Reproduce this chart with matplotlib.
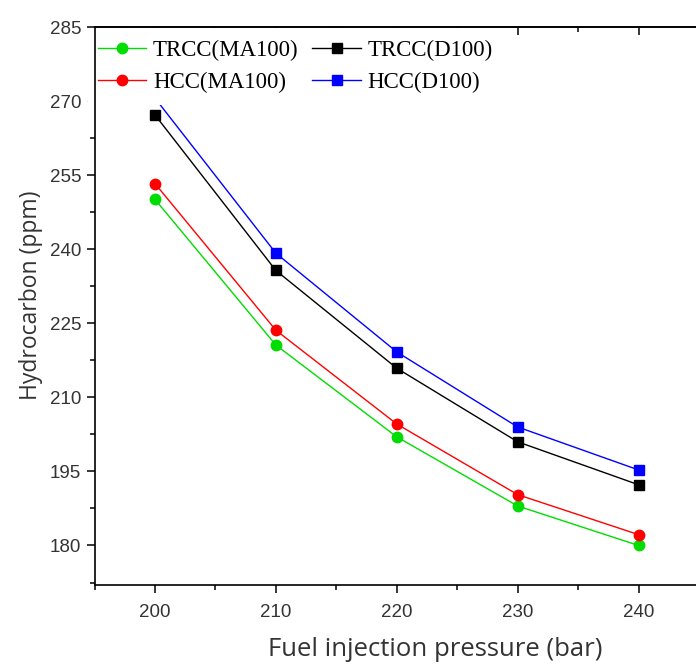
import matplotlib
matplotlib.use("Agg")
from matplotlib import pyplot as plt
from matplotlib.ticker import MultipleLocator

pressure = [200, 210, 220, 230, 240]
trcc_ma100 = [250.1, 220.6, 202.0, 188.0, 180.0]
hcc_ma100 = [253.3, 223.6, 204.6, 190.3, 182.2]
trcc_d100 = [267.2, 235.7, 215.9, 201.0, 192.3]
hcc_d100 = [270.6, 239.2, 219.2, 204.0, 195.3]

plt.rcParams["font.family"] = "Liberation Sans"

fig = plt.figure(figsize=(6.96, 6.64), dpi=100)
ax = fig.add_axes([0.1358, 0.119, 0.8685, 0.8403])

ax.plot(pressure, trcc_ma100, color="#00dd00", marker="o", markersize=7.5, lw=1, label="TRCC(MA100)")
ax.plot(pressure, hcc_ma100, color="#ff0000", marker="o", markersize=7.5, lw=1, label="HCC(MA100)")
ax.plot(pressure, trcc_d100, color="black", marker="s", markersize=7.5, lw=1, label="TRCC(D100)")
ax.plot(pressure, hcc_d100, color="#0000ff", marker="s", markersize=7.5, lw=1, label="HCC(D100)")

ax.set_xlim(195, 245)
ax.set_ylim(172, 285)
ax.xaxis.set_major_locator(MultipleLocator(10))
ax.xaxis.set_minor_locator(MultipleLocator(5))
ax.yaxis.set_major_locator(MultipleLocator(15))
ax.yaxis.set_minor_locator(MultipleLocator(7.5))

ax.spines["right"].set_visible(False)
for s in ["left", "bottom", "top"]:
    ax.spines[s].set_linewidth(1.2)
    ax.spines[s].set_zorder(6)
ax.tick_params(which="both", direction="out", width=1.1, labelsize=13.5, labelcolor="#333333")
ax.tick_params(which="major", length=6)
ax.tick_params(which="minor", length=3.5)
ax.tick_params(axis="x", pad=8)

# inward ticks along the top edge
top = ax.secondary_xaxis("top")
top.xaxis.set_major_locator(MultipleLocator(10))
top.xaxis.set_minor_locator(MultipleLocator(5))
top.tick_params(which="both", direction="in", width=1.1, labeltop=False)
top.tick_params(which="major", length=6)
top.tick_params(which="minor", length=3.5)
top.spines["top"].set_linewidth(1.2)

ax.set_xlabel("Fuel injection pressure (bar)", fontsize=18.5, family="Open Sans", color="#333333")
ax.set_ylabel("Hydrocarbon (ppm)", fontsize=16.5, family="Open Sans", color="#333333")
ax.xaxis.set_label_coords(0.563, -0.093)
ax.yaxis.set_label_coords(-0.085, 0.52)

leg = ax.legend(ncol=2, loc="upper left", bbox_to_anchor=(-0.013, 0.998), frameon=True,
                prop={"family": "Liberation Serif", "size": 16.5}, handlelength=2.1,
                columnspacing=0.6, labelspacing=0.5, borderaxespad=0.0, borderpad=0.5,
                handletextpad=0.3)
leg.get_frame().set_edgecolor("none")
leg.get_frame().set_facecolor("white")
leg.get_frame().set_alpha(1)
leg.set_zorder(5)

plt.savefig("out.png", dpi=100)
